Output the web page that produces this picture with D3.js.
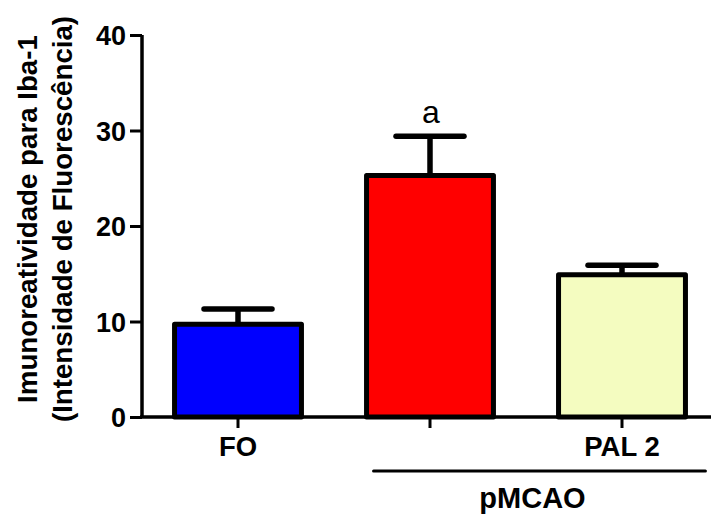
<!DOCTYPE html>
<html>
<head>
<meta charset="utf-8">
<script src="https://cdn.jsdelivr.net/npm/d3@7"></script>
<style>
  html, body { margin: 0; padding: 0; background: #fff; }
  svg { display: block; font-family: "Liberation Sans", Arial, Helvetica, sans-serif; }
</style>
</head>
<body>
<svg id="chart" width="711" height="516"></svg>
<script>
// Iba-1 immunoreactivity (mean ± SEM) per group
const categories = ["FO", "pMCAO", "PAL 2"];
const tickLabels = ["FO", "", "PAL 2"];
const means = [9.7, 25.3, 14.9];
const errors = [1.6, 4.1, 1.0];
const fills = ["#0000ff", "#ff0000", "#f4fcc0"];
const significance = ["", "a", ""];
const yTicks = [0, 10, 20, 30, 40];
const groupLabel = "pMCAO";
const groupMembers = ["pMCAO", "PAL 2"];
const yTitleLines = ["Imunoreatividade para Iba-1", "(Intensidade de Fluorescência)"];

const svg = d3.select("#chart");

const x = d3.scaleBand()
  .domain(categories)
  .range([142, 718])
  .paddingInner(0.339)
  .paddingOuter(0.1695);

const y = d3.scaleLinear().domain([0, 40]).range([417, 35]);

// bars
const bars = categories.map((c, i) => ({ c, m: means[i], e: errors[i], f: fills[i], s: significance[i] }));

// error bars (drawn first so the bar outline covers the stem base)
const eb = svg.append("g").attr("stroke", "#000").attr("stroke-width", 5.5).attr("stroke-linecap", "round");
const capHalf = 34;
bars.forEach(d => {
  const cx = x(d.c) + x.bandwidth() / 2;
  eb.append("line").attr("x1", cx).attr("x2", cx).attr("y1", y(d.m)).attr("y2", y(d.m + d.e)).attr("stroke-linecap", "butt");
  eb.append("line").attr("x1", cx - capHalf).attr("x2", cx + capHalf).attr("y1", y(d.m + d.e)).attr("y2", y(d.m + d.e));
});

svg.append("g").selectAll("rect").data(bars).join("rect")
  .attr("x", d => x(d.c))
  .attr("width", x.bandwidth())
  .attr("y", d => y(d.m))
  .attr("height", d => y(0) - y(d.m))
  .attr("fill", d => d.f)
  .attr("stroke", "#000")
  .attr("stroke-width", 5)
  .attr("stroke-linejoin", "round");

// significance letters
svg.append("g").selectAll("text").data(bars.filter(d => d.s)).join("text")
  .attr("x", d => x(d.c) + x.bandwidth() / 2 + 1)
  .attr("y", d => y(d.m + d.e) - 13)
  .attr("text-anchor", "middle")
  .attr("font-size", 32)
  .attr("fill", "#000")
  .text(d => d.s);

// y axis
const yAxis = svg.append("g").attr("transform", "translate(142,0)")
  .call(d3.axisLeft(y).tickValues(yTicks).tickSize(12).tickPadding(4).tickFormat(d3.format("d")));
yAxis.select(".domain").attr("stroke-width", 3.5).attr("d", `M0,${y(40)}V${y(0)}`);
yAxis.selectAll(".tick line").attr("stroke-width", 3);
yAxis.selectAll(".tick text").attr("font-size", 27).attr("font-weight", "bold").attr("fill", "#000").attr("font-family", "Liberation Sans, Arial, sans-serif").attr("dy", "0.36em");

// x axis
const xAxis = svg.append("g").attr("transform", `translate(0,${y(0)})`)
  .call(d3.axisBottom(x).tickSize(11).tickPadding(8).tickFormat((d, i) => tickLabels[i]));
xAxis.select(".domain").attr("stroke-width", 3.5).attr("d", `M140,0H711`);
xAxis.selectAll(".tick line").attr("stroke-width", 3);
xAxis.selectAll(".tick text").attr("font-size", 27.5).attr("font-weight", "bold").attr("fill", "#000").attr("font-family", "Liberation Sans, Arial, sans-serif");

// group bracket
const gx0 = x(groupMembers[0]) + 7;
const gx1 = x(groupMembers[1]) + x.bandwidth() + 20;
svg.append("line")
  .attr("x1", gx0).attr("x2", gx1).attr("y1", 471).attr("y2", 471)
  .attr("stroke", "#000").attr("stroke-width", 3).attr("stroke-linecap", "round");
svg.append("text")
  .attr("x", (gx0 + gx1) / 2 - 7).attr("y", 508)
  .attr("text-anchor", "middle")
  .attr("font-size", 29).attr("font-weight", "bold")
  .text(groupLabel);

// y title
const yt = svg.append("text")
  .attr("transform", "translate(0,219) rotate(-90)")
  .attr("text-anchor", "middle")
  .attr("font-size", 27.7).attr("font-weight", "bold");
yt.append("tspan").attr("x", 0).attr("y", 36.5).text(yTitleLines[0]);
yt.append("tspan").attr("x", 0).attr("y", 71.5).text(yTitleLines[1]);
</script>
</body>
</html>
